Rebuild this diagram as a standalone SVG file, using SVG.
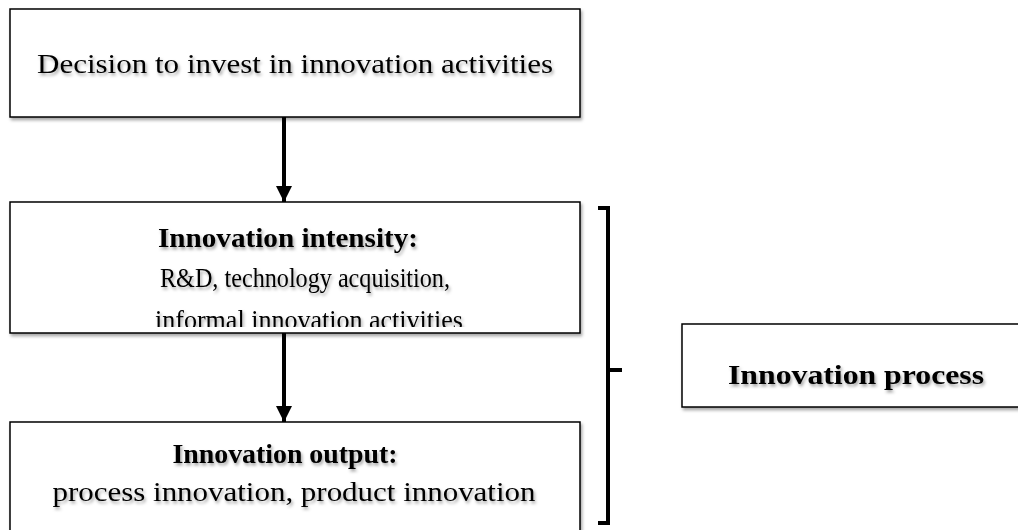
<svg xmlns="http://www.w3.org/2000/svg" width="1018" height="530" viewBox="0 0 1018 530">
<defs>
<style>
.box{fill:#fff;stroke:#000;stroke-width:1.5}
.t{font-family:"Liberation Serif","Times New Roman",serif;font-size:28px;fill:#000;text-anchor:middle}
.b{font-weight:bold}
.conn{stroke:#000;stroke-width:4;fill:none}
</style>
<filter id="sh" x="-10%" y="-30%" width="120%" height="160%">
<feDropShadow dx="1.5" dy="2.5" stdDeviation="1.5" flood-color="#000" flood-opacity="0.35"/>
</filter>
<marker id="ah" viewBox="0 0 10 10" refX="10" refY="5" markerWidth="4.2" markerHeight="4" orient="auto" markerUnits="strokeWidth">
<path d="M0,0 L10,5 L0,10 z" fill="#000"/>
</marker>
<clipPath id="c2"><rect x="10" y="202" width="570" height="125"/></clipPath>
</defs>
<rect width="1018" height="530" fill="#fff"/>
<g id="connectors">
<line class="conn" x1="284" y1="117" x2="284" y2="202" marker-end="url(#ah)"/>
<line class="conn" x1="284" y1="333" x2="284" y2="422" marker-end="url(#ah)"/>
<path class="conn" d="M598,208 H608 V523 H598 M608,370 H622" stroke-width="3.5"/>
</g>
<g id="n1">
<rect class="box" x="10" y="9" width="570" height="108" filter="url(#sh)"/>
<text class="t" x="295" y="73" textLength="516" lengthAdjust="spacingAndGlyphs" filter="url(#sh)">Decision to invest in innovation activities</text>
</g>
<g id="n2">
<rect class="box" x="10" y="202" width="570" height="131" filter="url(#sh)"/>
<g clip-path="url(#c2)" filter="url(#sh)">
<text class="t b" x="288" y="247" textLength="260" lengthAdjust="spacingAndGlyphs">Innovation intensity:</text>
<text class="t" x="305" y="287" textLength="290" lengthAdjust="spacingAndGlyphs">R&amp;D, technology acquisition,</text>
<text class="t" x="309" y="329" textLength="308" lengthAdjust="spacingAndGlyphs">informal innovation activities</text>
</g>
</g>
<g id="n3">
<rect class="box" x="10" y="422" width="570" height="120" filter="url(#sh)"/>
<text class="t b" x="285" y="463" textLength="225" lengthAdjust="spacingAndGlyphs" filter="url(#sh)">Innovation output:</text>
<text class="t" x="294" y="501" textLength="483" lengthAdjust="spacingAndGlyphs" filter="url(#sh)">process innovation, product innovation</text>
</g>
<g id="n4">
<rect class="box" x="682" y="324" width="345" height="83" filter="url(#sh)"/>
<text class="t b" x="856" y="384" textLength="256" lengthAdjust="spacingAndGlyphs" filter="url(#sh)">Innovation process</text>
</g>
</svg>
